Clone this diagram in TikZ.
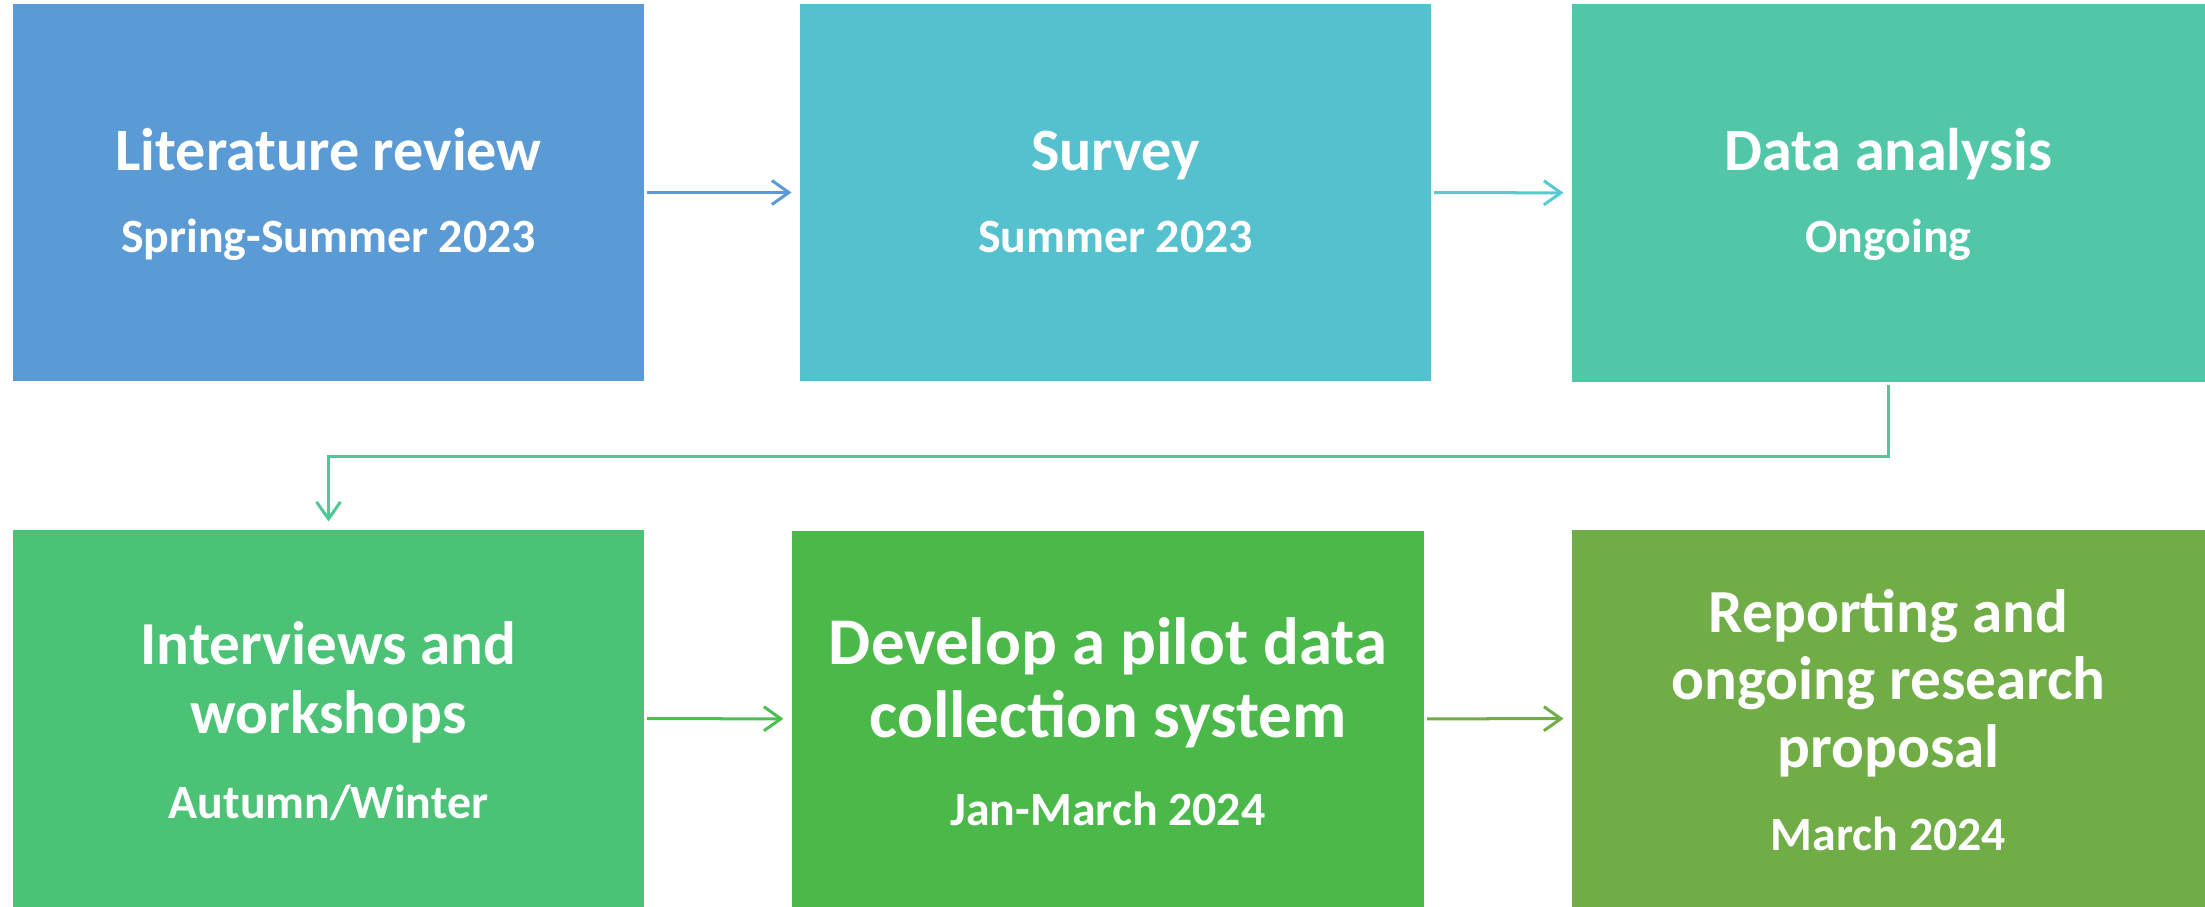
\documentclass[tikz,border=0pt]{standalone}
\usepackage{fontspec}
\setmainfont{Carlito}
\usetikzlibrary{arrows.meta,fit,calc}
\definecolor{cA}{RGB}{91,155,213}
\definecolor{cB}{RGB}{85,193,206}
\definecolor{cC}{RGB}{82,199,168}
\definecolor{cD}{RGB}{76,194,118}
\definecolor{cE}{RGB}{75,185,74}
\definecolor{cF}{RGB}{112,173,71}
\definecolor{aB}{RGB}{88,203,208}
\definecolor{aC}{RGB}{80,200,150}
\definecolor{aE}{RGB}{77,190,80}
\tikzset{
  box/.style={inner sep=0pt, outer sep=0pt, draw=none},
  txt/.style={text=white, anchor=base, inner sep=0pt},
  ttlA/.style={txt, font=\bfseries\fontsize{17.1}{20}\selectfont},
  ttlB/.style={txt, font=\bfseries\fontsize{17.4}{21}\selectfont},
  ttlC/.style={txt, font=\bfseries\fontsize{19}{23}\selectfont},
  subA/.style={txt, font=\bfseries\fontsize{13.6}{16}\selectfont},
  arr/.style={line width=0.03cm, -{Straight Barb[length=0.17cm,width=0.24cm,line width=0.03cm]}, shorten <=0.03cm, shorten >=0.085cm},
}
\begin{document}
\begin{tikzpicture}[x=0.01cm, y=-0.01cm]
\useasboundingbox (0,0) rectangle (2205,907);
% boxes
\node[box, fill=cA, fit={(13,4) (644,381)}] (b1) {};
\node[box, fill=cB, fit={(800,4) (1431,381)}] (b2) {};
\node[box, fill=cC, fit={(1572,4) (2205,382)}] (b3) {};
\node[box, fill=cD, fit={(13,530) (644,907)}] (b4) {};
\node[box, fill=cE, fit={(792,531) (1424,907)}] (b5) {};
\node[box, fill=cF, fit={(1572,530) (2205,907)}] (b6) {};
% texts
\node[ttlA] (t1) at (328.5,171) {Literature review};
\node[subA] (s1) at (328.5,253) {Spring-Summer 2023};
\node[ttlA] (t2) at (1115.5,171) {Survey};
\node[subA] (s2) at (1115.5,253) {Summer 2023};
\node[ttlA] (t3) at (1888.5,171) {Data analysis};
\node[subA] (s3) at (1888.5,253) {Ongoing};
\node[ttlB] (t4a) at (328.5,665) {Interviews and};
\node[ttlB] (t4b) at (328.5,734) {workshops};
\node[subA] (s4) at (328.5,819) {Autumn/Winter};
\node[ttlC] (t5a) at (1108,665) {Develop a pilot data};
\node[ttlC] (t5b) at (1108,738) {collection system};
\node[subA] (s5) at (1108,826) {Jan-March 2024};
\node[ttlB] (t6a) at (1888.5,633) {Reporting and};
\node[ttlB] (t6b) at (1888.5,700) {ongoing research};
\node[ttlB] (t6c) at (1888.5,768) {proposal};
\node[subA] (s6) at (1888.5,851) {March 2024};
% connectors
\draw[arr, draw=cA] (b1) -- (b2);
\draw[arr, draw=aB] (b2) -- (b3);
\draw[arr, draw=aC] (b3.south) -- ++(0,75) -| (b4.north);
\draw[arr, draw=aE] (b4) -- (b5);
\draw[arr, draw=cF] (b5) -- (b6);
\end{tikzpicture}
\end{document}
